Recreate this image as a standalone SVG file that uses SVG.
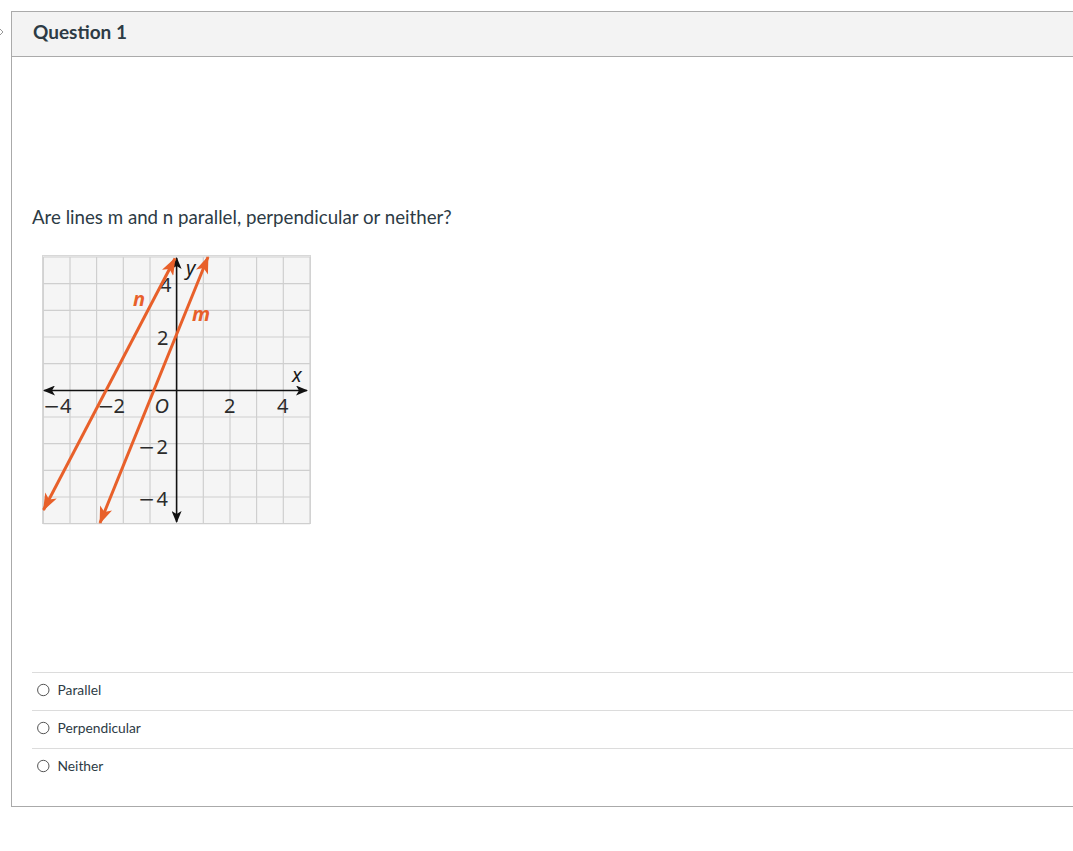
<svg xmlns="http://www.w3.org/2000/svg" width="1073" height="851" viewBox="0 0 1073 851">
<defs>
<style>
.ui{font-family:Lato,"Liberation Sans",sans-serif;fill:#2d3b45}
.tick{font-family:"Noto Sans","Liberation Sans",sans-serif;font-size:20px;fill:#2b2b2b}
.mn{font-family:"DejaVu Sans",sans-serif;font-size:20px}
.var{font-family:"Noto Sans","Liberation Sans",sans-serif;font-size:20px;font-style:italic}
.grid line{stroke:#cfcfcf;stroke-width:1.2}
.sep{stroke:#dcdcdc;stroke-width:1}
.radio{fill:#fff;stroke:#555;stroke-width:1}
.orange{stroke:#e8602a;stroke-width:3;fill:none}
.axis{stroke:#111;stroke-width:1.6;fill:none}
</style>
<marker id="ah" viewBox="0 0 12 10" refX="11" refY="5" markerWidth="12" markerHeight="10" markerUnits="userSpaceOnUse" orient="auto-start-reverse">
<path d="M0,0 L12,5 L0,10 L3,5 z" fill="#111"/>
</marker>
<marker id="oh" viewBox="0 0 16 12" refX="15" refY="6" markerWidth="18" markerHeight="13" markerUnits="userSpaceOnUse" orient="auto-start-reverse">
<path d="M0,0 L16,6 L0,12 L4,6 z" fill="#e8602a"/>
</marker>
</defs>
<rect width="1073" height="851" fill="#fff"/>
<g id="chevron"><path d="M0,29 L3,32 L0,35" stroke="#999" stroke-width="1" fill="none"/></g>
<g id="panel">
<rect x="11.5" y="11.5" width="1070" height="795" fill="#fff" stroke="#aaa" stroke-width="1"/>
<rect x="12" y="12" width="1061" height="44" fill="#f3f3f3"/>
<line x1="11" y1="56.5" x2="1073" y2="56.5" stroke="#aaa" stroke-width="1"/>
<text class="ui" x="33" y="39" font-size="19" font-weight="bold">Question 1</text>
<text class="ui" x="32" y="224" font-size="18.7">Are lines m and n parallel, perpendicular or neither?</text>
</g>
<g id="graph">
<rect x="42.5" y="255.5" width="268" height="268" fill="#f5f5f5" stroke="#d8d8d8" stroke-width="1"/>
<g class="grid">
<line x1="43.3" y1="257" x2="43.3" y2="523.7"/>
<line x1="70" y1="257" x2="70" y2="523.7"/>
<line x1="96.6" y1="257" x2="96.6" y2="523.7"/>
<line x1="123.3" y1="257" x2="123.3" y2="523.7"/>
<line x1="150" y1="257" x2="150" y2="523.7"/>
<line x1="203.3" y1="257" x2="203.3" y2="523.7"/>
<line x1="230" y1="257" x2="230" y2="523.7"/>
<line x1="256.6" y1="257" x2="256.6" y2="523.7"/>
<line x1="283.3" y1="257" x2="283.3" y2="523.7"/>
<line x1="310" y1="257" x2="310" y2="523.7"/>
<line x1="43.3" y1="257" x2="310" y2="257"/>
<line x1="43.3" y1="283.7" x2="310" y2="283.7"/>
<line x1="43.3" y1="310.3" x2="310" y2="310.3"/>
<line x1="43.3" y1="337" x2="310" y2="337"/>
<line x1="43.3" y1="363.7" x2="310" y2="363.7"/>
<line x1="43.3" y1="417" x2="310" y2="417"/>
<line x1="43.3" y1="443.7" x2="310" y2="443.7"/>
<line x1="43.3" y1="470.3" x2="310" y2="470.3"/>
<line x1="43.3" y1="497" x2="310" y2="497"/>
<line x1="43.3" y1="523.7" x2="310" y2="523.7"/>
</g>
<line class="axis" x1="44" y1="390.5" x2="307" y2="390.5" marker-start="url(#ah)" marker-end="url(#ah)"/>
<line class="axis" x1="176.6" y1="258" x2="176.6" y2="522" marker-start="url(#ah)" marker-end="url(#ah)"/>
<text class="tick" y="413"><tspan class="mn" x="43.2">−</tspan><tspan x="60">4</tspan></text>
<text class="tick" y="413"><tspan class="mn" x="97.6">−</tspan><tspan x="113.5">2</tspan></text>
<text class="tick" x="154.5" y="413" font-style="italic">O</text>
<text class="tick" x="224" y="413">2</text>
<text class="tick" x="277" y="413">4</text>
<text class="tick" x="160" y="292">4</text>
<text class="tick" x="157" y="345">2</text>
<text class="tick" y="454"><tspan class="mn" x="138.2">−</tspan><tspan x="156.5">2</tspan></text>
<text class="tick" y="505.5"><tspan class="mn" x="138.2">−</tspan><tspan x="156.5">4</tspan></text>
<text class="var" x="186" y="275" fill="#1a1a1a">y</text>
<text class="var" x="292" y="382" fill="#1a1a1a">x</text>
<text class="var" x="133" y="306" fill="#e8602a" font-weight="bold">n</text>
<text class="var" x="192" y="321" fill="#e8602a" font-weight="bold">m</text>
<line class="orange" x1="43.5" y1="510" x2="175" y2="258.5" marker-start="url(#oh)" marker-end="url(#oh)"/>
<line class="orange" x1="100" y1="523" x2="208" y2="257" marker-start="url(#oh)" marker-end="url(#oh)"/>
</g>
<g id="answers">
<line class="sep" x1="32" y1="672.5" x2="1073" y2="672.5"/>
<line class="sep" x1="32" y1="710.5" x2="1073" y2="710.5"/>
<line class="sep" x1="32" y1="748.5" x2="1073" y2="748.5"/>
<circle class="radio" cx="43.3" cy="690" r="5.7"/>
<text class="ui" x="57.5" y="694.5" font-size="13.8">Parallel</text>
<circle class="radio" cx="43.3" cy="728" r="5.7"/>
<text class="ui" x="57.5" y="732.5" font-size="13.8">Perpendicular</text>
<circle class="radio" cx="43.3" cy="766" r="5.7"/>
<text class="ui" x="57.5" y="770.5" font-size="13.8">Neither</text>
</g>
</svg>
